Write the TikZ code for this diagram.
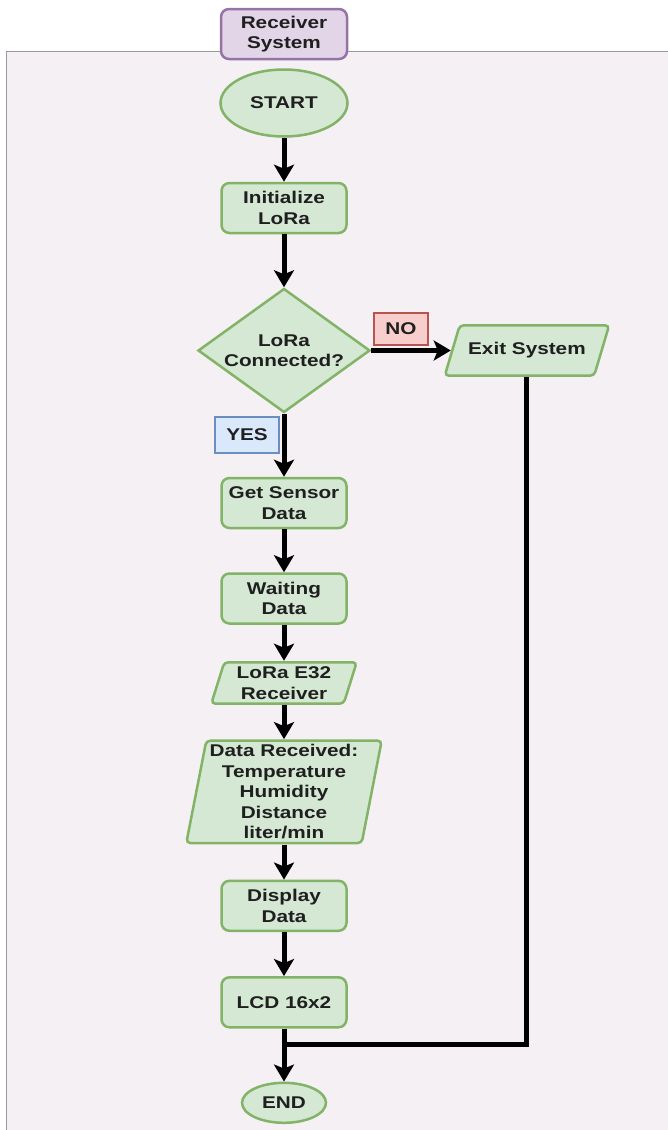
\documentclass[tikz,border=0pt]{standalone}
\usepackage{fontspec}
\setmainfont{Liberation Sans}[FakeStretch=1.22]
\usetikzlibrary{calc,positioning,arrows.meta,shapes.geometric}
\definecolor{panelbg}{HTML}{F4F0F4}
\definecolor{panelline}{HTML}{9A9A9A}
\definecolor{greenfill}{HTML}{D5E8D4}
\definecolor{greenline}{HTML}{82B366}
\definecolor{purplefill}{HTML}{E1D5E7}
\definecolor{purpleline}{HTML}{9673A6}
\definecolor{nofill}{HTML}{F8CECC}
\definecolor{noline}{HTML}{B85450}
\definecolor{yesfill}{HTML}{DAE8FC}
\definecolor{yesline}{HTML}{6C8EBF}
\definecolor{textcol}{HTML}{1F1F1F}

\begin{document}
\begin{tikzpicture}[x=1pt,y=-1pt,node distance=40pt,>={Stealth[length=17pt,width=20pt,inset=4pt]},
		every node/.style={font=\fontsize{17}{20.5}\selectfont\bfseries, text=textcol, align=center},
		procbox/.style={rectangle, rounded corners=8pt, draw=greenline, fill=greenfill, line width=2.5pt, minimum width=125pt, minimum height=50pt, inner sep=0pt},
		termbox/.style={ellipse, draw=greenline, fill=greenfill, line width=2.5pt, inner sep=0pt},
		% parallelogram drawn inside a plain rectangle, #1 = slant
		iobox/.style={rectangle, inner sep=0pt, path picture={
			\draw[greenline, fill=greenfill, line width=2.5pt, rounded corners=4pt]
				let \p1=(path picture bounding box.south west), \p2=(path picture bounding box.north east) in
				(\x1+1.3pt,\y1+1.3pt) -- (\x2-1.3pt-#1,\y1+1.3pt) -- (\x2-1.3pt,\y2-1.3pt) -- (\x1+1.3pt+#1,\y2-1.3pt) -- cycle;}},
		tagbox/.style={rectangle, line width=1.5pt, inner sep=0pt, minimum height=32pt},
		flow/.style={->, line width=5pt}]
					\useasboundingbox (0,0) rectangle (668,1130);

					% background panel
					\fill[white] (0,0) rectangle (668,51);
					\fill[panelbg] (6,51) rectangle (668,1130);
					\draw[panelline, line width=1pt] (668,51) -- (6,51) -- (6,1130);

					% main column
					\node[termbox, minimum width=127pt, minimum height=67pt] (start) at (284,103) {START};
					\node[procbox, fill=purplefill, draw=purpleline, minimum width=126pt, above=8pt of start] (title) {Receiver\\System};
					\node[procbox, below=44pt of start] (init) {Initialize\\LoRa};
					\node[diamond, aspect=1.4, draw=greenline, fill=greenfill, line width=2.5pt, inner sep=0pt, minimum width=172pt, minimum height=124pt, below=53pt of init] (conn) {LoRa\\Connected?};
					\node[procbox, below=63pt of conn] (sensor) {Get Sensor\\Data};
					\node[procbox, below=43pt of sensor] (wait) {Waiting\\Data};
					\node[iobox=13pt, minimum width=148pt, minimum height=44pt, below=36pt of wait] (lora) {LoRa E32\\Receiver};
					\node[iobox=20pt, minimum width=198pt, minimum height=105pt, below=34pt of lora] (recv) {Data Received:\\Temperature\\Humidity\\Distance\\liter/min};
					\node[procbox, below=35pt of recv] (disp) {Display\\Data};
					\node[procbox, below=44pt of disp] (lcd) {LCD 16x2};
					\node[termbox, minimum width=84pt, minimum height=40pt, below=53pt of lcd] (end) {END};

					% exit branch
					\node[iobox=15pt, minimum width=167pt, minimum height=53pt, right=72pt of conn] (exit) {Exit System};
					\coordinate (exitin) at ($(exit.west)+(7.5,0)$);
					\node[tagbox, fill=nofill, draw=noline, minimum width=54pt] (no) at (401,329) {NO};
					\node[tagbox, fill=yesfill, draw=yesline, minimum width=64pt, minimum height=36pt] (yes) at (247,435) {YES};

					% arrows
					\draw[flow] (start) -- (init);
					\draw[flow] (init) -- (conn);
					\draw[flow] (conn) -- (sensor);
					\draw[flow] (conn) -- (exitin);
					\draw[flow] (sensor) -- (wait);
					\draw[flow] (wait) -- (lora);
					\draw[flow] (lora) -- (recv);
					\draw[flow] (recv) -- (disp);
					\draw[flow] (disp) -- (lcd);
					\draw[flow] (lcd) -- (end);

					% exit back to end
					\coordinate (join) at ($(lcd.south)!0.3!(end.north)$);
					\draw[line width=5pt] (exit) |- (join);
				\end{tikzpicture}
\end{document}
